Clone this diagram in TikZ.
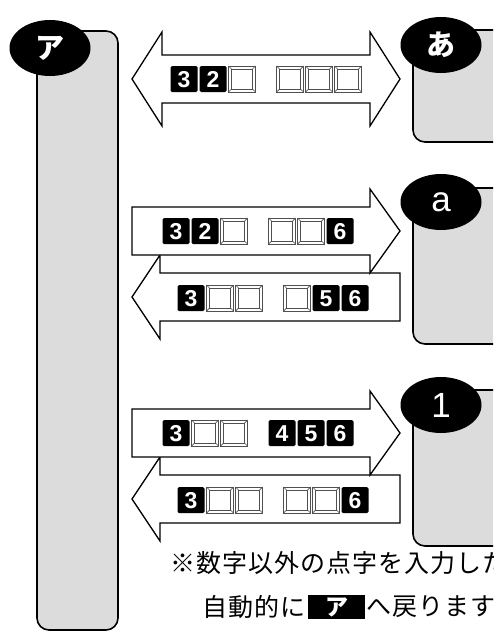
\documentclass[tikz,border=0pt]{standalone}
\usepackage{fontspec}
\usetikzlibrary{shapes.geometric}
\newfontfamily\jp{Noto Sans CJK JP}
\newfontfamily\jpsp{Noto Sans CJK JP}[LetterSpace=4]
\newfontfamily\dfont{Liberation Sans}
\definecolor{boxgray}{HTML}{DCDCDC}
\definecolor{cellgray}{HTML}{505050}
\tikzset{
  panel/.style={draw=black, line width=1.6pt, fill=boxgray, rounded corners=12pt},
  badge/.style={ellipse, fill=black, minimum width=81pt, minimum height=56pt, inner sep=0pt, text=white},
  arrowshape/.style={draw=black, line width=1.3pt, fill=white, line join=miter},
  digit/.style={text=white, inner sep=0pt, font=\dfont\bfseries\fontsize{23}{23}\selectfont},
  cellline/.style={draw=cellgray, line width=0.7pt},
  pics/blk/.style={code={
    \fill[black, rounded corners=1.5pt] (-13.5,-13) rectangle (13.5,13);
    \node[digit] (-d) at (0,0.5) {#1};
  }},
  pics/wht/.style={code={
    \draw[cellline, fill=white] (-13.5,-13) rectangle (13.5,13);
    \draw[cellline] (-10.5,-10) rectangle (10.5,10);
    \draw[cellline] (-13.5,-13)--(-10.5,-10) (13.5,-13)--(10.5,-10)
                    (13.5,13)--(10.5,10) (-13.5,13)--(-10.5,10);
  }},
  note/.style={inner sep=0pt, anchor=west, font=\jpsp\fontsize{25}{25}\selectfont},
}
\begin{document}
\begin{tikzpicture}[x=1pt, y=-1pt]
\useasboundingbox (0,0) rectangle (493,632);
\clip (0,0) rectangle (493,632);

% panels
\draw[panel] (37,31) rectangle (118,630);
\draw[panel] (413,30) rectangle (530,142);
\draw[panel] (413,188) rectangle (530,344);
\draw[panel] (413,390) rectangle (530,546);

% badges
\node[badge, font=\jp\bfseries\fontsize{29}{29}\selectfont] (ka) at (50,48) {ア};
\node[badge, font=\jp\bfseries\fontsize{29}{29}\selectfont] (hi) at (441,45) {あ};
\node[badge, font=\dfont\fontsize{35}{35}\selectfont] (la) at (441,202) {a};
\node[badge, font=\dfont\fontsize{35}{35}\selectfont] (nu) at (441,405) {1};

% arrows
\draw[arrowshape] (132,79) -- (162,32) -- (162,55) -- (370,55) -- (370,32) -- (400,79)
  -- (370,126) -- (370,103) -- (162,103) -- (162,126) -- cycle;

\draw[arrowshape] (400,273) -- (160,273) -- (160,255) -- (132,297) -- (160,339) -- (160,321) -- (400,321) -- cycle;
\draw[arrowshape] (132,207) -- (370,207) -- (370,189) -- (400,231) -- (370,273) -- (370,255) -- (132,255) -- cycle;

\draw[arrowshape] (400,475) -- (160,475) -- (160,457) -- (132,499) -- (160,541) -- (160,523) -- (400,523) -- cycle;
\draw[arrowshape] (132,409) -- (370,409) -- (370,391) -- (400,433) -- (370,475) -- (370,457) -- (132,457) -- cycle;

% row 0 (double arrow)
\pic (r0a) at (184,79) {blk=3};
\pic (r0b) at (213,79) {blk=2};
\pic (r0c) at (242,79) {wht};
\pic (r0d) at (290,79) {wht};
\pic (r0e) at (319,79) {wht};
\pic (r0f) at (348,79) {wht};

% row 1 (a, right)
\pic (r1a) at (176,231) {blk=3};
\pic (r1b) at (205,231) {blk=2};
\pic (r1c) at (234,231) {wht};
\pic (r1d) at (282,231) {wht};
\pic (r1e) at (311,231) {wht};
\pic (r1f) at (340,231) {blk=6};

% row 2 (a, left)
\pic (r2a) at (191,298) {blk=3};
\pic (r2b) at (220,298) {wht};
\pic (r2c) at (249,298) {wht};
\pic (r2d) at (297,298) {wht};
\pic (r2e) at (326,298) {blk=5};
\pic (r2f) at (355,298) {blk=6};

% row 3 (1, right)
\pic (r3a) at (176,433) {blk=3};
\pic (r3b) at (205,433) {wht};
\pic (r3c) at (234,433) {wht};
\pic (r3d) at (282,433) {blk=4};
\pic (r3e) at (311,433) {blk=5};
\pic (r3f) at (340,433) {blk=6};

% row 4 (1, left)
\pic (r4a) at (191,500) {blk=3};
\pic (r4b) at (220,500) {wht};
\pic (r4c) at (249,500) {wht};
\pic (r4d) at (297,500) {wht};
\pic (r4e) at (326,500) {wht};
\pic (r4f) at (355,500) {blk=6};

% note
\node[note] (n1) at (170,563) {※数字以外の点字を入力した};
\node[note] (n2) at (202,607) {自動的に};
\node[fill=black, minimum width=57pt, minimum height=24pt, inner sep=0pt, text=white,
      font=\jp\bfseries\fontsize{23}{23}\selectfont] (n3) at (336.5,607) {ア};
\node[note] (n4) at (366,607) {へ戻ります};
\end{tikzpicture}
\end{document}
